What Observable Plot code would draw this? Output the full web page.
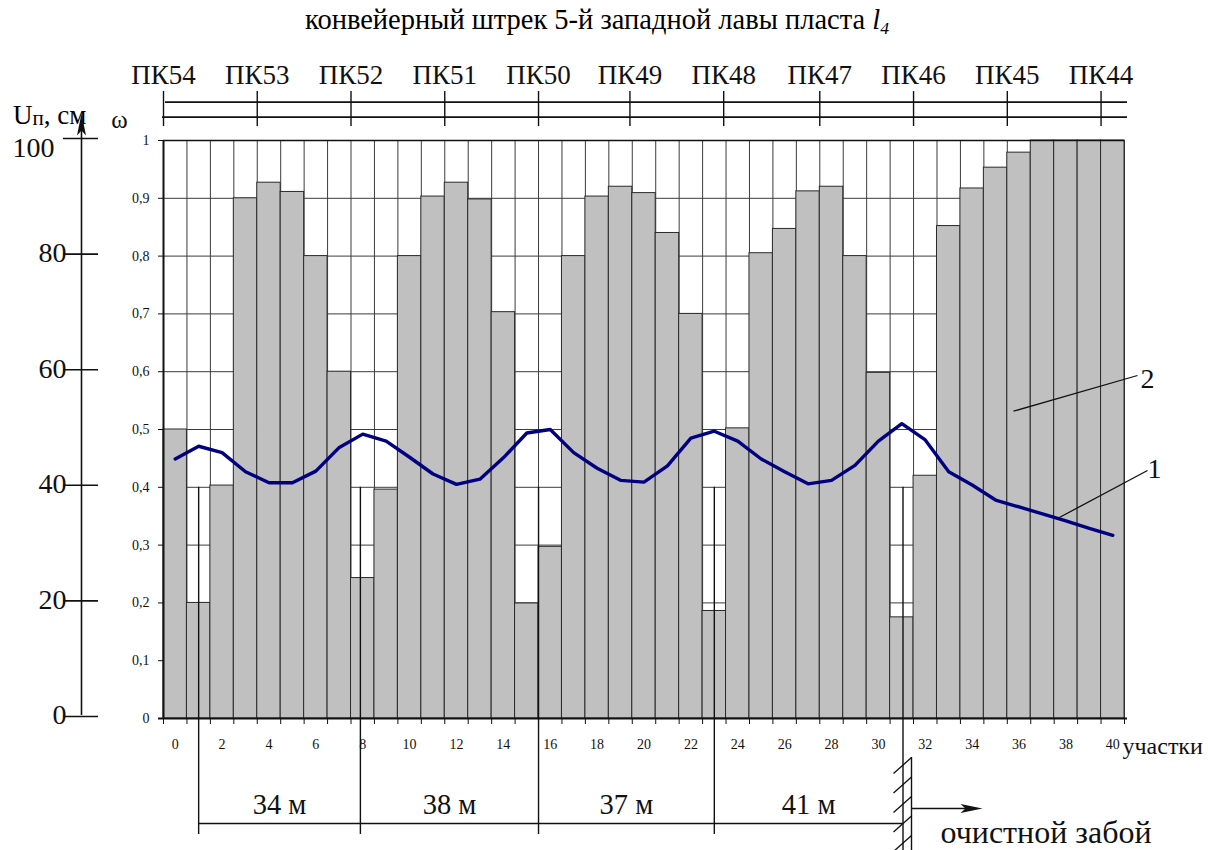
<!DOCTYPE html>
<html>
<head>
<meta charset="utf-8">
<script src="https://cdn.jsdelivr.net/npm/d3@7"></script>
<script src="https://cdn.jsdelivr.net/npm/@observablehq/plot@0.6"></script>
<style>
  html, body { margin: 0; padding: 0; background: #fff; }
  #fig { position: relative; width: 1208px; height: 850px; font-family: "Liberation Serif", serif; color: #000; }
  #title { position: absolute; left: 0; top: 6px; width: 1194px; text-align: center; font-size: 28.5px; line-height: 1; white-space: nowrap; }
  #title sub { font-size: 0.62em; vertical-align: -0.28em; line-height: 0; }
  #ulabel { position: absolute; left: 13px; top: 102px; font-size: 27px; line-height: 1; white-space: nowrap; }
  #ulabel sub { font-size: 0.78em; vertical-align: -0.06em; line-height: 0; }
  #fig svg { position: absolute; left: 0; top: 0; }
</style>
</head>
<body>
<div id="fig">
  <div id="title">конвейерный штрек 5-й западной лавы пласта <i>l<sub>4</sub></i></div>
  <div id="ulabel">U<sub>п</sub>, см</div>
</div>
<script>
// ---------------- data ----------------
const sections = [0,1,2,3,4,5,6,7,8,9,10,11,12,13,14,15,16,17,18,19,20,21,22,23,24,25,26,27,28,29,30,31,32,33,34,35,36,37,38,39,40];
// curve 2: bars (omega)
const omega = [0.5,0.2,0.403,0.9,0.927,0.911,0.8,0.6,0.243,0.396,0.8,0.903,0.927,0.898,0.703,0.199,0.297,0.8,0.903,0.92,0.909,0.84,0.7,0.186,0.502,0.805,0.847,0.912,0.92,0.8,0.598,0.175,0.42,0.852,0.917,0.953,0.979,1,1,1,1];
// curve 1: U_п, cm
const settlement = [44.9,47.1,46.0,42.7,40.8,40.8,42.8,46.9,49.2,48.0,45.2,42.3,40.5,41.4,45.1,49.4,50.0,46.0,43.3,41.2,40.9,43.7,48.5,49.7,48.0,44.9,42.7,40.6,41.2,43.8,48.0,51.0,48.2,42.7,40.4,37.8,36.6,35.4,34.2,32.9,31.7];
const xTickLabels = [0,2,4,6,8,10,12,14,16,18,20,22,24,26,28,30,32,34,36,38,40];
const omegaTicks = [0,0.1,0.2,0.3,0.4,0.5,0.6,0.7,0.8,0.9,1];
const omegaTickLabels = ["0","0,1","0,2","0,3","0,4","0,5","0,6","0,7","0,8","0,9","1"];
const uTicks = [0,20,40,60,80,100];
const pkLabels = ["ПК54","ПК53","ПК52","ПК51","ПК50","ПК49","ПК48","ПК47","ПК46","ПК45","ПК44"];
const pkPositions = [0,4,8,12,16,19.9,23.9,28,32,36,40];
const dimPositions = [1.5,8.4,16,23.5,31.55];
const dimLabels = ["34 м","38 м","37 м","41 м"];

const rows = sections.map((s, i) => ({s, w: omega[i], u: settlement[i]}));
const edges = sections.concat([sections.length]);

// ---------------- layout helpers (pixel -> scale units for annotations) ----------------
const FX0 = 163, FX1 = 1124, FY0 = 718, FY1 = 140, NX = sections.length;
const ux = px => (px - FX0) / (FX1 - FX0) * NX;
const uy = py => (FY0 - py) / (FY0 - FY1);
const serif = "Liberation Serif, serif";
const ink = "#111";
const T = {fill: ink, fontFamily: serif};

const arrowHead = { draw(ctx) { ctx.moveTo(0, 0); ctx.lineTo(-22, -4.5); ctx.lineTo(-17, 0); ctx.lineTo(-22, 4.5); ctx.closePath(); } };

const hatchTops = d3.range(6).map(i => 757 + i * 19.5);

const chart = Plot.plot({
  width: 1208, height: 850,
  marginLeft: FX0, marginRight: 1208 - FX1, marginTop: FY1, marginBottom: 850 - FY0,
  x: {domain: [0, NX], axis: null},
  y: {domain: [0, 1], axis: null},
  style: {fontFamily: serif, background: "transparent", overflow: "visible", color: ink},
  marks: [
    // grid
    Plot.ruleY(omegaTicks.filter(v => v > 0 && v < 1), {x1: 0, x2: NX, stroke: "#3c3c3c", strokeWidth: 1}),
    Plot.ruleX(edges, {y1: 0, y2: 1, stroke: "#3c3c3c", strokeWidth: 1}),
    // bars (2)
    Plot.rectY(rows, {x1: d => d.s, x2: d => d.s + 1, y: "w", fill: "#c0c0c0", stroke: "#2a2a2a", strokeWidth: 1}),
    // frame
    Plot.ruleY([1], {x1: 0, x2: NX, stroke: ink, strokeWidth: 1.6}),
    Plot.ruleX([0], {y1: 0, y2: 1, stroke: ink, strokeWidth: 2}),
    Plot.ruleY([0], {x1: ux(158), x2: ux(1127), stroke: ink, strokeWidth: 2}),
    // x ticks + labels
    Plot.ruleX(edges, {y1: 0, y2: uy(724), stroke: ink, strokeWidth: 1}),
    Plot.text(xTickLabels, {x: d => d + 0.5, y: 0, dy: 30, text: d => String(d), lineAnchor: "bottom", fontSize: 14, ...T, ariaLabel: "xticklabels"}),
    Plot.text(["участки"], {x: ux(1122), y: 0, dy: 35, textAnchor: "start", lineAnchor: "bottom", fontSize: 24, ...T}),
    // omega axis
    Plot.ruleY(omegaTicks, {x1: ux(158), x2: 0, stroke: ink, strokeWidth: 1}),
    Plot.text(omegaTicks, {x: 0, y: d => d, dx: -14, text: (d, i) => omegaTickLabels[i], textAnchor: "end", lineAnchor: "middle", fontSize: 14, ...T, ariaLabel: "yticklabels"}),
    Plot.text(["ω"], {x: ux(119), y: uy(127), lineAnchor: "bottom", fontSize: 25, ...T}),
    // U axis
    Plot.ruleX([ux(81)], {y1: uy(715), y2: uy(124), stroke: ink, strokeWidth: 1.6}),
    Plot.ruleY(uTicks, {y: d => d / 100, dy: -2, x1: ux(63), x2: ux(98), stroke: ink, strokeWidth: 1.6}),
    Plot.text(uTicks.filter(d => d < 100), {x: ux(66), y: d => d / 100, dy: -3, text: d => String(d), textAnchor: "end", lineAnchor: "middle", fontSize: 28, ...T}),
    Plot.text(uTicks.filter(d => d === 100), {x: ux(54), y: d => d / 100, dy: 8, text: d => String(d), textAnchor: "end", lineAnchor: "middle", fontSize: 28, ...T}),
    Plot.dot([0], {x: ux(81), y: uy(113), symbol: arrowHead, rotate: -90, fill: ink, stroke: "none"}),
    // line (1)
    Plot.line(rows, {x: d => d.s + 0.5, y: d => d.u / 100, stroke: "#000080", strokeWidth: 3.4, strokeLinejoin: "round"}),
    // picket axis on top
    Plot.ruleY([uy(101.7)], {x1: ux(165), x2: ux(1127), stroke: ink, strokeWidth: 1.8}),
    Plot.ruleY([uy(116.7)], {x1: ux(162), x2: ux(1127), stroke: ink, strokeWidth: 1.8}),
    Plot.ruleX(pkPositions, {y1: uy(126), y2: uy(91), stroke: ink, strokeWidth: 1.4}),
    Plot.text(pkLabels, {x: (d, i) => pkPositions[i], y: uy(83), lineAnchor: "bottom", fontSize: 27, ...T}),
    // leaders 1 and 2
    Plot.link([0], {x1: ux(1057), y1: uy(518), x2: ux(1147), y2: uy(470), stroke: ink, strokeWidth: 1.3}),
    Plot.text(["1"], {x: ux(1154), y: uy(469), lineAnchor: "middle", fontSize: 28, ...T}),
    Plot.link([0], {x1: ux(1013), y1: uy(410.7), x2: ux(1137), y2: uy(375), stroke: ink, strokeWidth: 1.3}),
    Plot.text(["2"], {x: ux(1147), y: uy(379), lineAnchor: "middle", fontSize: 28, ...T}),
    // dimension lines
    Plot.ruleX(dimPositions, {y1: 0.4, y2: (d, i) => i === dimPositions.length - 1 ? uy(851) : uy(834), stroke: ink, strokeWidth: 1.4}),
    Plot.ruleY([uy(823)], {x1: dimPositions[0], x2: dimPositions[dimPositions.length - 1], stroke: ink, strokeWidth: 1.4}),
    Plot.text(dimLabels, {x: (d, i) => (dimPositions[i] + dimPositions[i + 1]) / 2, y: uy(813), lineAnchor: "bottom", fontSize: 28.5, ...T}),
    // coal face (wall) with hatching and arrow
    Plot.ruleX([ux(911)], {y1: uy(757), y2: uy(851), stroke: ink, strokeWidth: 1.4}),
    Plot.link(hatchTops, {x1: ux(911), y1: d => uy(d), x2: ux(893), y2: d => uy(d + 16), stroke: ink, strokeWidth: 1.3}),
    Plot.ruleY([uy(808)], {x1: ux(911), x2: ux(975), stroke: ink, strokeWidth: 1.4}),
    Plot.dot([0], {x: ux(982), y: uy(808), symbol: arrowHead, rotate: 0, fill: ink, stroke: "none"}),
    Plot.text(["очистной забой"], {x: ux(940), y: uy(842), textAnchor: "start", lineAnchor: "bottom", fontSize: 32, ...T})
  ]
});

document.getElementById("fig").appendChild(chart);
d3.select(chart).selectAll('g[aria-label="xticklabels"] text').attr("letter-spacing", "2.5px");
d3.select(chart).selectAll('g[aria-label="yticklabels"] text').attr("letter-spacing", "2px");
</script>
</body>
</html>
